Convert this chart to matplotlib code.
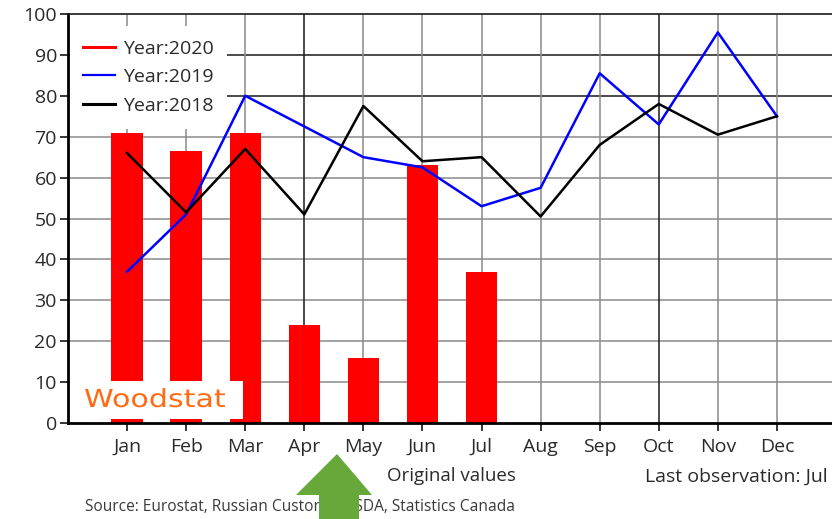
import matplotlib
matplotlib.use("Agg")
import matplotlib.pyplot as plt
from matplotlib.lines import Line2D
from matplotlib.patches import Rectangle, Polygon, PathPatch
from matplotlib.textpath import TextPath
from matplotlib.font_manager import FontProperties
from matplotlib.transforms import Affine2D

months = ["Jan", "Feb", "Mar", "Apr", "May", "Jun", "Jul", "Aug", "Sep", "Oct", "Nov", "Dec"]
year_2020 = [71, 66.5, 71, 24, 16, 63, 37]
year_2019 = [37, 51, 80, 72.5, 65, 62.5, 53, 57.5, 85.5, 73, 95.5, 75]
year_2018 = [66, 51.5, 67, 51, 77.5, 64, 65, 50.5, 68, 78, 70.5, 75]
y_ticks = [0, 10, 20, 30, 40, 50, 60, 70, 80, 90, 100]

plt.rcParams["font.family"] = ["Open Sans", "DejaVu Sans"]
W, H = 832, 519
fig = plt.figure(figsize=(W / 100, H / 100), dpi=100)
ax = fig.add_axes([68 / W, (H - 423) / H, (836 - 68) / W, (423 - 14) / H])

x_2020 = list(range(1, len(year_2020) + 1))
x_all = list(range(1, 13))

ax.set_xlim(0, 13)
ax.set_ylim(0, 100)

# grid
dark_h = {80, 90}
for v in y_ticks[1:-1]:
    ax.axhline(v, color="#1a1a1a" if v in dark_h else "#8a8a8a", lw=1.1, zorder=0)
for m in x_all:
    ax.axvline(m, color="#1a1a1a" if m in (4, 10) else "#8a8a8a", lw=1.1, zorder=0)

ax.bar(x_2020, year_2020, width=0.53, color="#ff0000", zorder=2)

# logo box
ax.add_patch(Rectangle((0.03, 1.0), 2.94, 9.3, facecolor="white",
                       edgecolor="none", zorder=3))

ax.plot(x_all, year_2019, color="#0000ff", lw=1.8, zorder=5)
ax.plot(x_all, year_2018, color="#000000", lw=1.8, zorder=5)

ax.set_xticks(x_all)
ax.set_xticklabels(months)
ax.set_yticks(y_ticks)
ax.tick_params(axis="both", colors="#000000", labelcolor="#2a2a2a", labelsize=14,
               direction="out", length=6, width=1.1)
ax.tick_params(axis="x", pad=5)
ax.tick_params(axis="y", pad=2)

for side in ["left", "bottom"]:
    ax.spines[side].set_linewidth(2)
    ax.spines[side].set_color("#000000")
ax.spines["top"].set_linewidth(1.2)
ax.spines["top"].set_color("#1a1a1a")
ax.spines["right"].set_visible(False)

handles = [Line2D([], [], color="#ff0000", lw=2.2),
           Line2D([], [], color="#0000ff", lw=1.6),
           Line2D([], [], color="#000000", lw=2.2)]
leg = ax.legend(handles, ["Year:2020", "Year:2019", "Year:2018"], loc="upper left",
                bbox_to_anchor=(0.002, (423 - 26) / 409), frameon=True, fancybox=False,
                edgecolor="none", facecolor="white", framealpha=1, fontsize=14,
                handlelength=1.65, handletextpad=0.4, labelspacing=0.55,
                borderpad=0.7, borderaxespad=0)
for t in leg.get_texts():
    t.set_color("#2a2a2a")
leg.set_zorder(6)

# logo text, stretched to its box in pixel units
tp = TextPath((0, 0), "Woodstat", size=1, prop=FontProperties(family="DejaVu Sans"))
ext = tp.get_extents()
sx = 140 / ext.width
sy = 15 / (ext.height * 0.78)
logo_tr = (Affine2D().translate(-ext.x0, 0).scale(sx, sy).translate(85, H - 407)
           + Affine2D().scale(1 / W, 1 / H) + fig.transFigure)
fig.patches.append(PathPatch(tp, facecolor="#ff6a13", edgecolor="none",
                             transform=logo_tr, figure=fig, zorder=4))

fig.text(451 / W, 1 - 476 / H, "Original values", fontsize=13.5, color="#2a2a2a",
         ha="center", va="center")
fig.text(645 / W, 1 - 477 / H, "Last observation: Jul", fontsize=14, color="#2a2a2a",
         ha="left", va="center")
fig.text(85 / W, 1 - 507 / H, "Source: Eurostat, Russian Customs, USDA, Statistics Canada",
         fontsize=11.2, color="#3a3a3a", ha="left", va="center")

# green arrow pointing up at the chart
arrow_px = [(337, 454), (372, 495), (359, 495), (359, 525), (319, 525), (319, 495), (296, 495)]
arrow_pts = [(x / W, 1 - y / H) for x, y in arrow_px]
fig.patches.append(Polygon(arrow_pts, closed=True, facecolor="#67a83a", edgecolor="none",
                           transform=fig.transFigure, figure=fig, zorder=10))

fig.savefig("out.png", dpi=100)
